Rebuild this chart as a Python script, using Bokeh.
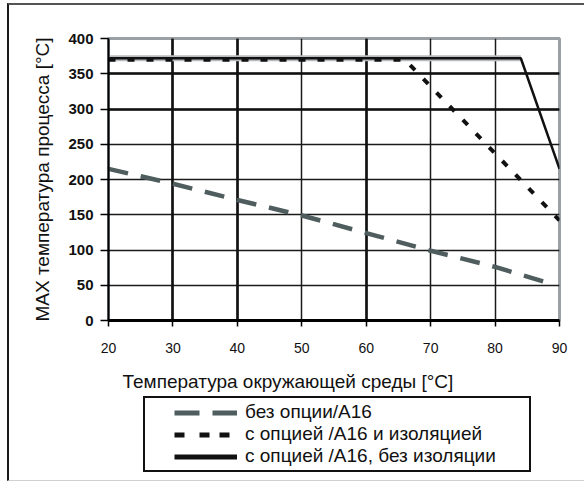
import math
from bokeh.plotting import figure
from bokeh.layouts import column
from bokeh.models import (Range1d, FixedTicker, Legend, LegendItem, Title, Grid)
from bokeh.embed import file_html
from bokeh.resources import INLINE

# data
dash_x = [20, 30, 40, 50, 60, 70, 80, 88]
dash_y = [215, 194, 171, 149, 124, 99, 76, 54]
dot_x = [20, 66, 90]
dot_y = [370, 370, 142]
solid_x = [20, 84, 90]
solid_y = [372, 372, 215]
x_ticks = [20, 30, 40, 50, 60, 70, 80, 90]
y_ticks = [0, 50, 100, 150, 200, 250, 300, 350, 400]
x_grid_bold = [30, 40, 60]
y_grid_bold = [300, 350]
labels = ["без опции/A16", "с опцией /A16 и изоляцией", "с опцией /A16, без изоляции"]
x_title = "Температура окружающей среды [°C]"
y_title = "MAX температура процесса [°C]"

FONT = "Liberation Sans"

OX, OY = 9, 5          # canvas offset inside page (frame border drawn by css)
W = 584 - OX
SPLIT = 367
H1 = SPLIT - OY
H2 = 480 - SPLIT

p = figure(width=W, height=H1, output_backend="svg", toolbar_location=None,
           x_range=Range1d(20, 90), y_range=Range1d(0, 400),
           min_border_left=108 - OX, min_border_right=584 - 559, min_border_top=38 - OY,
           min_border_bottom=H1 - (320 - OY))
p.background_fill_color = "white"
p.border_fill_color = "white"
p.outline_line_color = "#9aa0a4"
p.outline_line_width = 3

# grid
p.xgrid.ticker = FixedTicker(ticks=x_ticks[1:-1])
p.ygrid.ticker = FixedTicker(ticks=y_ticks[1:-1])
p.xgrid.grid_line_color = "#1a1a1a"
p.ygrid.grid_line_color = "#1a1a1a"
p.xgrid.grid_line_width = 1.5
p.ygrid.grid_line_width = 1.5
p.add_layout(Grid(dimension=0, ticker=FixedTicker(ticks=x_grid_bold),
                  grid_line_color="#111111", grid_line_width=2.6))
p.add_layout(Grid(dimension=1, ticker=FixedTicker(ticks=y_grid_bold),
                  grid_line_color="#111111", grid_line_width=2.6))

# axes
p.xaxis.ticker = FixedTicker(ticks=x_ticks)
p.yaxis.ticker = FixedTicker(ticks=y_ticks)
for ax in (p.xaxis[0], p.yaxis[0]):
    ax.axis_line_color = "black"
    ax.major_tick_line_color = "black"
    ax.major_tick_line_width = 1.5
    ax.major_tick_in = 0
    ax.minor_tick_line_color = None
    ax.major_label_text_font = FONT
    ax.major_label_text_color = "#111111"
p.xaxis.major_tick_out = 6
p.yaxis.major_tick_out = 8
p.xaxis.axis_line_width = 3
p.yaxis.axis_line_width = 2
p.xaxis.major_label_text_font_size = "14px"
p.yaxis.major_label_text_font_size = "15px"
p.yaxis.major_label_text_font_style = "bold"
p.xaxis.major_label_standoff = 16
p.yaxis.major_label_standoff = 7
p.yaxis.axis_label = y_title
p.yaxis.axis_label_text_font = FONT
p.yaxis.axis_label_text_font_size = "19px"
p.yaxis.axis_label_text_font_style = "normal"
p.yaxis.axis_label_text_color = "#111111"
p.yaxis.axis_label_standoff = 12

# lines
p.line(solid_x[:2], solid_y[:2], line_color="#b8bcbe", line_width=6)
p.line(dash_x, dash_y, line_color="#4f5d5e", line_width=4.5, line_dash="20 13")
p.line(dot_x, dot_y, line_color="#111111", line_width=4, line_dash="7 12")
p.line(solid_x, solid_y, line_color="#111111", line_width=2.5)

# lower part: x title + legend
q = figure(width=W, height=H2, output_backend="svg", toolbar_location=None,
           x_range=Range1d(0, 1), y_range=Range1d(0, 1),
           x_axis_type=None, y_axis_type=None,
           min_border_left=0, min_border_right=0, min_border_top=0, min_border_bottom=0)
q.grid.visible = False
q.outline_line_color = None
q.background_fill_color = "white"
q.border_fill_color = "white"
q.add_layout(Title(text=x_title, align="left", offset=14, standoff=2,
                   text_font=FONT, text_font_size="19px", text_font_style="normal",
                   text_color="#111111"), "above")

nan = [math.nan]
l_dash = q.line(nan, nan, line_color="#4f5d5e", line_width=5, line_dash="0 26 25 13 25 200")
l_dot = q.line(nan, nan, line_color="#111111", line_width=5, line_dash="0 26 10 15 10 10 10 9 3 200")
l_solid = q.line(nan, nan, line_color="#111111", line_width=5, line_dash="0 26 63 200")

legend = Legend(items=[LegendItem(label=labels[0], renderers=[l_dash]),
                       LegendItem(label=labels[1], renderers=[l_dot]),
                       LegendItem(label=labels[2], renderers=[l_solid])],
                location=(143 - 108, 8), orientation="vertical",
                glyph_width=89, glyph_height=21, label_height=21, label_width=281,
                label_standoff=8, spacing=0, padding=3, margin=0,
                label_text_font=FONT, label_text_font_size="19px", label_text_color="#111111",
                border_line_color="#111111", border_line_width=2, border_line_alpha=1,
                background_fill_alpha=0)
q.add_layout(legend, "center")

layout = column(p, q, spacing=0)
layout.styles = {"margin-left": "7px", "margin-top": "3px",
                 "border-left": "2px solid #1a1a1a", "border-top": "2px solid #555555",
                 "border-bottom": "1px solid #d0d0d0"}

open("out.html", "w").write(file_html(layout, INLINE))
